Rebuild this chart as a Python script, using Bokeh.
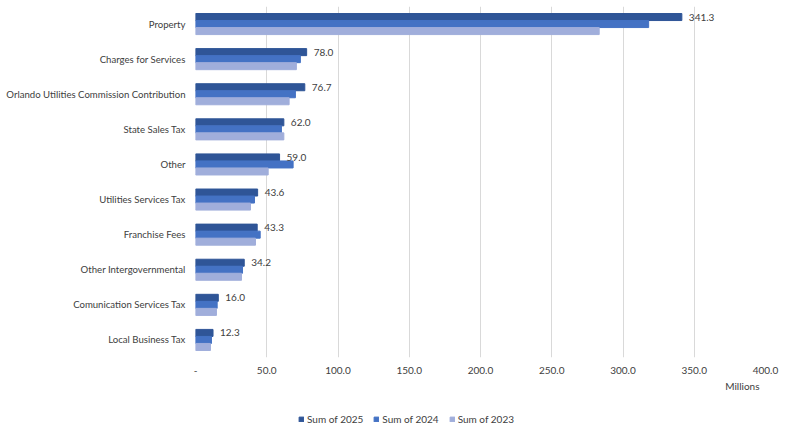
from bokeh.plotting import figure
from bokeh.layouts import column
from bokeh.models import (ColumnDataSource, FactorRange, Legend, LegendItem, Title,
                          FixedTicker, NumeralTickFormatter, LabelSet)
from bokeh.transform import dodge
from bokeh.core.properties import value
from bokeh.embed import file_html
from bokeh.resources import INLINE

categories = ["Property", "Charges for Services", "Orlando Utilities Commission Contribution",
              "State Sales Tax", "Other", "Utilities Services Tax", "Franchise Fees",
              "Other Intergovernmental", "Comunication Services Tax", "Local Business Tax"]
sum_2025 = [341.3, 78.0, 76.7, 62.0, 59.0, 43.6, 43.3, 34.2, 16.0, 12.3]
sum_2024 = [318.0, 73.6, 70.1, 60.3, 68.5, 41.4, 45.4, 33.0, 15.2, 11.2]
sum_2023 = [283.3, 70.8, 65.7, 62.0, 51.0, 38.6, 42.1, 32.3, 14.7, 10.5]
x_ticks = [0, 50, 100, 150, 200, 250, 300, 350, 400]
series_names = ["Sum of 2025", "Sum of 2024", "Sum of 2023"]
colors = ["#2F5597", "#4472C4", "#A0AEDB"]

FONT = "Lato"

source = ColumnDataSource(dict(
    cat=categories, y2025=sum_2025, y2024=sum_2024, y2023=sum_2023,
    lbl=["%.1f" % v for v in sum_2025],
))

p = figure(width=800, height=405, y_range=FactorRange(*reversed(categories)),
           x_range=(0, 400), output_backend="svg", toolbar_location=None,
           min_border_left=195, min_border_right=35, min_border_top=6,
           min_border_bottom=48)
p.outline_line_color = None
p.background_fill_color = "white"
p.border_fill_color = "white"

r25 = p.hbar(y=dodge("cat", 0.2, range=p.y_range), right="y2025", height=0.2,
             source=source, color=colors[0], line_color=colors[0])
r24 = p.hbar(y=dodge("cat", 0.0, range=p.y_range), right="y2024", height=0.2,
             source=source, color=colors[1], line_color=colors[1])
r23 = p.hbar(y=dodge("cat", -0.2, range=p.y_range), right="y2023", height=0.2,
             source=source, color=colors[2], line_color=colors[2])

labels = LabelSet(x="y2025", y=dodge("cat", 0.2, range=p.y_range), text="lbl", source=source,
                  x_offset=7, text_font=value(FONT), text_font_size="10px",
                  text_color="#404040", text_baseline="middle", text_align="left")
p.add_layout(labels)

# axes
p.xaxis.ticker = FixedTicker(ticks=x_ticks)
p.xaxis.formatter = NumeralTickFormatter(format="0.0")
p.xaxis.major_label_overrides = {0: "-"}
p.xaxis.axis_line_color = None
p.xaxis.major_tick_line_color = None
p.xaxis.minor_tick_line_color = None
p.xaxis.major_label_standoff = 3
p.xaxis.major_label_text_font = FONT
p.xaxis.major_label_text_font_size = "10px"
p.xaxis.major_label_text_color = "#404040"

p.yaxis.axis_line_color = None
p.yaxis.major_tick_line_color = None
p.yaxis.minor_tick_line_color = None
p.yaxis.major_label_standoff = 4
p.yaxis.major_label_text_font = FONT
p.yaxis.major_label_text_font_size = "9.6px"
p.yaxis.major_label_text_color = "#404040"

p.ygrid.grid_line_color = None
p.xgrid.grid_line_color = "#D9D9D9"
p.xgrid.grid_line_width = 1

p.add_layout(Title(text="Millions", align="right", offset=6, text_font=FONT,
                   text_font_size="10px", text_color="#404040", text_font_style="normal",
                   standoff=2), "below")

# legend strip (frames are aligned with the main plot by the column layout)
lg = figure(width=800, height=26, x_range=(0, 1), y_range=(0, 1),
            output_backend="svg", toolbar_location=None,
            min_border_left=0, min_border_right=0, min_border_top=0, min_border_bottom=0)
lg.axis.visible = False
lg.grid.visible = False
lg.outline_line_color = None
proxy = ColumnDataSource(dict(y=[-5], right=[0.5]))
lr = [lg.hbar(y="y", right="right", height=0.1, source=proxy, color=c, line_color=c)
      for c in colors]
legend = Legend(items=[LegendItem(label=n, renderers=[r]) for n, r in zip(series_names, lr)],
                orientation="horizontal", location=(103, 6),
                glyph_width=6, glyph_height=6, label_text_font=FONT,
                label_text_font_size="10px", label_text_color="#404040",
                label_standoff=3, spacing=10, padding=0, margin=0,
                border_line_color=None, background_fill_alpha=0)
lg.add_layout(legend, "center")

layout = column(p, lg, spacing=0)
open("out.html", "w").write(file_html(layout, INLINE))
